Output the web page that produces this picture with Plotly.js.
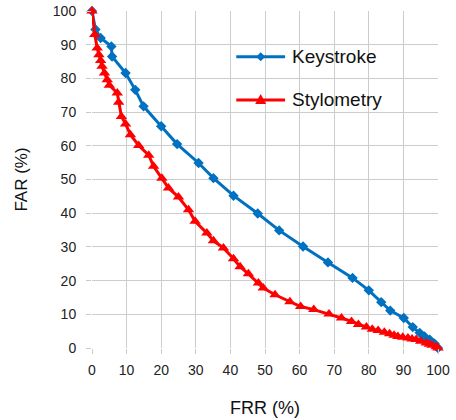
<!DOCTYPE html>
<html>
<head>
<meta charset="utf-8">
<script src="https://cdn.plot.ly/plotly-3.0.1.min.js"></script>
<style>html,body{margin:0;padding:0;background:#fff}#chart{width:456px;height:420px}</style>
</head>
<body>
<div id="chart"></div>
<script>
var keystrokeFRR = [0, 1, 2.5, 5.6, 5.8, 9.7, 12.5, 14.9, 20, 24.6, 30.8, 35.1, 40.9, 47.9, 54.1, 61, 68.2, 75.3, 80, 83.6, 86.2, 90.1, 92.7, 94.7, 96.1, 97.6, 99, 100];
var keystrokeFAR = [100, 94.5, 92, 89.5, 86.5, 81.6, 76.6, 71.7, 65.8, 60.5, 54.9, 50.4, 45.2, 39.9, 34.9, 30.1, 25.4, 20.8, 17.1, 13.6, 11.1, 8.9, 6.2, 4.5, 3.4, 2.5, 1.3, 0];

var styloFRR = [0, 0.8, 1.5, 2, 2.5, 2.9, 3.6, 4.4, 5, 7.3, 7.7, 8.5, 9.7, 11.1, 13.5, 16.4, 17.8, 20.2, 22.1, 25, 27.9, 29.8, 33.2, 35.1, 38, 40.9, 42.8, 45.2, 48.1, 49.5, 52.9, 57.2, 60.3, 64.1, 68.5, 72.1, 75, 77, 79.3, 81, 82.7, 84.5, 86, 87.3, 88.4, 89.8, 91.3, 92.5, 93.7, 95, 96.6, 97.5, 98.3, 99.5, 100];
var styloFAR = [100, 93, 89, 87, 85.3, 83.6, 81.6, 79.6, 78, 75.7, 72.9, 68.7, 66.5, 63.3, 60.1, 57.2, 53.9, 50.4, 47.5, 44.8, 41, 37.6, 34.1, 31.8, 29.7, 26.5, 24.1, 22, 19.3, 17.8, 15.8, 13.7, 12.3, 11.4, 10.1, 8.9, 7.9, 7, 6.2, 5.6, 5.2, 4.7, 4.2, 3.8, 3.4, 3.2, 3, 2.7, 2.5, 2, 1.5, 1.1, 0.8, 0.4, 0];

var xTicks = [0, 10, 20, 30, 40, 50, 60, 70, 80, 90, 100];
var yTicks = [0, 10, 20, 30, 40, 50, 60, 70, 80, 90, 100];
var seriesNames = ["Keystroke", "Stylometry"];
var seriesColors = ["#0070C0", "#FF0000"];

var font = "Liberation Sans, Arial, sans-serif";

var traces = [
  {
    x: keystrokeFRR, y: keystrokeFAR, name: seriesNames[0],
    type: "scatter", mode: "lines+markers", cliponaxis: false, showlegend: false,
    line: {color: seriesColors[0], width: 3},
    marker: {symbol: "diamond", size: 8, color: seriesColors[0]}
  },
  {
    x: styloFRR, y: styloFAR, name: seriesNames[1],
    type: "scatter", mode: "lines+markers", cliponaxis: false, showlegend: false,
    line: {color: seriesColors[1], width: 3},
    marker: {symbol: "triangle-up", size: 10, color: seriesColors[1]}
  }
];

// Legend drawn in paper coordinates (line sample, marker sample, label)
var legRows = [0.864, 0.736];
var lx0 = 0.417, lx1 = 0.558, lxm = 0.4875, ltx = 0.572;
var shapes = [], annotations = [];
legRows.forEach(function (yy, i) {
  shapes.push({type: "line", xref: "paper", yref: "paper", x0: lx0, x1: lx1, y0: yy, y1: yy,
    line: {color: seriesColors[i], width: 3}});
  annotations.push({xref: "paper", yref: "paper", x: ltx, y: yy, xanchor: "left", yanchor: "middle",
    text: seriesNames[i], showarrow: false, font: {family: font, size: 19, color: "#111"}});
});
// marker glyphs on legend lines (pixel-sized via paper fractions)
var pw = 347, ph = 337;
function dx(p) { return p / pw; }
function dy(p) { return p / ph; }
(function () {
  var cx = lxm, cy = legRows[0];
  shapes.push({type: "path", xref: "paper", yref: "paper",
    path: "M " + (cx - dx(4.5)) + " " + cy + " L " + cx + " " + (cy + dy(4.5)) + " L " + (cx + dx(4.5)) + " " + cy + " L " + cx + " " + (cy - dy(4.5)) + " Z",
    fillcolor: seriesColors[0], line: {width: 0}});
  cy = legRows[1];
  shapes.push({type: "path", xref: "paper", yref: "paper",
    path: "M " + (cx - dx(5.5)) + " " + (cy - dy(4)) + " L " + (cx + dx(5.5)) + " " + (cy - dy(4)) + " L " + cx + " " + (cy + dy(6)) + " Z",
    fillcolor: seriesColors[1], line: {width: 0}});
})();

var axisCommon = {
  range: [0, 100], autorange: false,
  showgrid: true, gridcolor: "#cccccc", gridwidth: 1,
  zeroline: false, showline: false,
  ticks: "outside", ticklen: 5, tickcolor: "#cccccc",
  tickfont: {family: font, size: 14, color: "#222"},
  fixedrange: true
};

var layout = {
  width: 456, height: 420,
  margin: {l: 91.5, r: 17.5, t: 11.3, b: 71.7},
  paper_bgcolor: "#fff", plot_bgcolor: "#fff",
  font: {family: font, color: "#222"},
  showlegend: false,
  shapes: shapes,
  annotations: annotations,
  xaxis: Object.assign({}, axisCommon, {
    tickvals: xTicks, ticktext: xTicks.map(String),
    ticklabelstandoff: 4,
    title: {text: "FRR (%)", font: {family: font, size: 18, color: "#111"}, standoff: 24}
  }),
  yaxis: Object.assign({}, axisCommon, {
    tickvals: yTicks, ticktext: yTicks.map(String),
    ticklabelstandoff: 7,
    title: {text: "FAR (%)", font: {family: font, size: 17, color: "#111"}, standoff: 20}
  })
};

Plotly.newPlot("chart", traces, layout, {staticPlot: true, displayModeBar: false});
</script>
</body>
</html>
